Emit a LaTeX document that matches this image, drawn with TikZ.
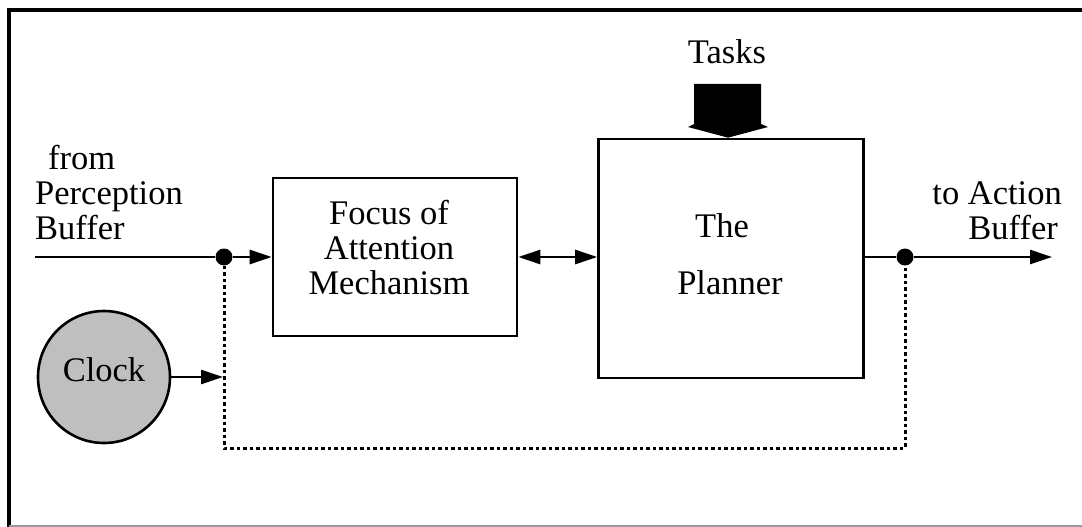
\documentclass[tikz,border=0pt]{standalone}
\usepackage{fontspec}
\setmainfont{Liberation Serif}
\usetikzlibrary{arrows.meta}
\begin{document}
\begin{tikzpicture}[x=1pt,y=-1pt,
  every node/.style={font=\fontsize{34.5}{35}\selectfont},
  blockbox/.style={draw,line width=2.6pt,inner sep=0pt,align=center},
  junction/.style={circle,fill=black,inner sep=0pt,minimum size=17pt},
  flow/.style={line width=2.6pt,-{Triangle[length=22pt,width=14pt]}},
  feedback/.style={line width=3pt,dash pattern=on 3.5pt off 3pt},
  lbl/.style={inner sep=0pt}]
\useasboundingbox (0,0) rectangle (1082,527);
% frame
\draw[line width=4pt] (9,527) -- (9,10) -- (1082,10);
\draw[black!40,line width=1.5pt] (9,526) -- (1082,526);

% blocks
\node[blockbox,minimum width=244pt,minimum height=158pt] (focus) at (395,257) {};
\node[lbl,align=center] (focustxt) at (389,248) {Focus of\\Attention\\Mechanism};
\node[blockbox,minimum width=265pt,minimum height=239pt] (planner) at (731,258.5) {};
\node[lbl] (the) at (722,226) {The};
\node[lbl] (plan) at (730,283) {Planner};
\node[circle,draw,line width=2.6pt,fill=black!25,minimum size=132pt,inner sep=0pt] (clock) at (104,377) {};
\node[lbl] (clk) at (104,370) {Clock};

% junctions
\node[junction] (j1) at (224,257) {};
\node[junction] (j2) at (905,257) {};
\coordinate (in) at (35,257);
\coordinate (out) at (1052,257);
\coordinate (tick) at (223,377);
\coordinate (fbl) at (224,448);
\coordinate (fbr) at (905,448);

% labels
\node[lbl,align=left,anchor=west] (src) at (35,193) {\hspace*{13pt}from\\Perception\\Buffer};
\node[lbl,align=right,anchor=east] (dst) at (1062,211) {to Action\\Buffer\hspace*{4pt}};
\node[lbl] (tasks) at (727,52) {Tasks};

% tasks arrow
\fill (694,84) -- (761,84) -- (761,124) -- (768,127) -- (planner.north -| 728,0) -- (688,127) -- (694,124) -- cycle;

% connectors
\draw[line width=2.6pt] (in) -- (j1);
\draw[flow] (j1) -- (focus.west |- j1);
\draw[line width=2.6pt,{Triangle[length=22pt,width=14pt]}-{Triangle[length=22pt,width=14pt]}] (focus.east) -- (planner.west |- focus.east);
\draw[line width=2.6pt] (planner.east |- j2) -- (j2);
\draw[flow] (j2) -- (out);
\draw[flow] (clock.east) -- (tick);
\draw[feedback] (j1) -- (fbl) -- (fbr) -- (j2);
\end{tikzpicture}
\end{document}
